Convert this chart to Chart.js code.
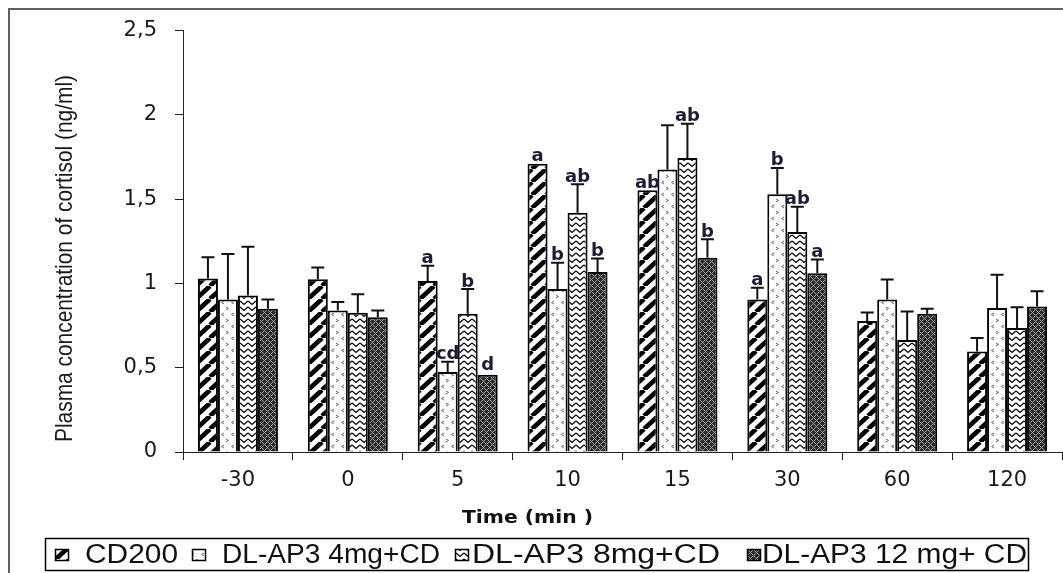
<!DOCTYPE html>
<html>
<head>
<meta charset="utf-8">
<script src="https://cdn.jsdelivr.net/npm/chart.js@4.4.1/dist/chart.umd.min.js"></script>
<style>
  html, body { margin: 0; padding: 0; background: #fff; }
  #wrap { width: 1063px; height: 573px; }
</style>
</head>
<body>
<div id="wrap"><canvas id="c" width="1063" height="573"></canvas></div>
<script>
// ---- data ----
const categories = ['-30', '0', '5', '10', '15', '30', '60', '120'];
const seriesNames = ['CD200', 'DL-AP3 4mg+CD', 'DL-AP3 8mg+CD', 'DL-AP3 12 mg+ CD'];
const cd200 = [1.03, 1.025, 1.015, 1.71, 1.553, 0.905, 0.777, 0.596];
const cd200Err = [0.125, 0.07, 0.09, 0, 0, 0.07, 0.05, 0.08];
const ap4 = [0.904, 0.84, 0.475, 0.967, 1.676, 1.529, 0.904, 0.855];
const ap4Err = [0.27, 0.05, 0.06, 0.156, 0.263, 0.156, 0.12, 0.196];
const ap8 = [0.928, 0.826, 0.82, 1.42, 1.744, 1.305, 0.664, 0.736];
const ap8Err = [0.29, 0.11, 0.147, 0.168, 0.203, 0.15, 0.17, 0.123];
const ap12 = [0.85, 0.80, 0.459, 1.068, 1.152, 1.06, 0.82, 0.863];
const ap12Err = [0.055, 0.04, 0.01, 0.08, 0.11, 0.082, 0.03, 0.09];
const cd200Sig = ['', '', 'a', 'a', 'ab', 'a', '', ''];
const ap4Sig = ['', '', 'cd', 'b', '', 'b', '', ''];
const ap8Sig = ['', '', 'b', 'ab', 'ab', 'ab', '', ''];
const ap12Sig = ['', '', 'd', 'b', 'b', 'a', '', ''];
const yTicks = [0, 0.5, 1, 1.5, 2, 2.5];
const yTitle = 'Plasma concentration of cortisol (ng/ml)';
const xTitle = 'Time (min )';

// ---- patterns ----
function makePattern(w, h, draw) {
  const c = document.createElement('canvas');
  c.width = w; c.height = h;
  const g = c.getContext('2d');
  draw(g, w, h);
  return document.getElementById('c').getContext('2d').createPattern(c, 'repeat');
}
const patDiag = makePattern(14, 13, (g, w, h) => {
  g.fillStyle = '#fff'; g.fillRect(0, 0, w, h);
  g.strokeStyle = '#000'; g.lineWidth = 4.6; g.lineCap = 'butt';
  for (const k of [-w, 0, w]) { g.beginPath(); g.moveTo(k, h); g.lineTo(k + w, 0); g.stroke(); }
});
const patChev = makePattern(10, 12, (g, w, h) => {
  g.fillStyle = '#fff'; g.fillRect(0, 0, w, h);
  g.strokeStyle = '#666'; g.lineWidth = 1;
  g.beginPath(); g.moveTo(4, 1); g.lineTo(1.5, 2.5); g.lineTo(4, 4); g.stroke();
  g.beginPath(); g.moveTo(6, 7); g.lineTo(8.5, 8.5); g.lineTo(6, 10); g.stroke();
});
const patZig = makePattern(8, 6, (g, w, h) => {
  g.fillStyle = '#fff'; g.fillRect(0, 0, w, h);
  g.strokeStyle = '#000'; g.lineWidth = 1.3;
  g.beginPath(); g.moveTo(0, 1); g.lineTo(4, 4.5); g.lineTo(8, 1); g.stroke();
});
const patMesh = makePattern(6, 6, (g, w, h) => {
  g.fillStyle = '#2b2b2b'; g.fillRect(0, 0, w, h);
  g.fillStyle = '#a0a0a0';
  const pts = [[0,0],[1,1],[2,2],[4,2],[5,1],[3,3],[2,4],[1,5],[4,4],[5,5]];
  for (const [x, y] of pts) g.fillRect(x, y, 1, 1);
});

const values = [cd200, ap4, ap8, ap12];
const errs = [cd200Err, ap4Err, ap8Err, ap12Err];
const sigs = [cd200Sig, ap4Sig, ap8Sig, ap12Sig];
const fills = [patDiag, patChev, patZig, patMesh];

const datasets = seriesNames.map((name, i) => ({
  label: name,
  data: values[i],
  backgroundColor: fills[i],
  borderColor: '#000',
  borderWidth: 2,
  barPercentage: 1.0,
  categoryPercentage: 0.728
}));

function drawFitted(ctx, text, x, y, targetW, font) {
  ctx.font = font;
  const w = ctx.measureText(text).width;
  ctx.save();
  ctx.translate(x, y);
  ctx.scale(targetW / w, 1);
  ctx.fillText(text, 0, 0);
  ctx.restore();
}

const decor = {
  id: 'decor',
  beforeDraw(chart) {
    const ctx = chart.ctx;
    ctx.save();
    ctx.fillStyle = '#fff';
    ctx.fillRect(0, 0, chart.width, chart.height);
    ctx.strokeStyle = '#606060';
    ctx.lineWidth = 2;
    ctx.beginPath();
    ctx.moveTo(9, 600); ctx.lineTo(9, 9); ctx.lineTo(1070, 9);
    ctx.stroke();
    ctx.restore();
  },
  afterDatasetsDraw(chart) {
    const ctx = chart.ctx;
    const y = chart.scales.y;
    ctx.save();
    chart.data.datasets.forEach((ds, di) => {
      const meta = chart.getDatasetMeta(di);
      meta.data.forEach((bar, i) => {
        const v = values[di][i], e = errs[di][i];
        const top = y.getPixelForValue(v);
        const et = y.getPixelForValue(v + e);
        if (e > 0.015) {
          ctx.strokeStyle = '#111'; ctx.lineWidth = 2;
          ctx.beginPath();
          ctx.moveTo(bar.x, top); ctx.lineTo(bar.x, et);
          ctx.moveTo(bar.x - 6.5, et); ctx.lineTo(bar.x + 6.5, et);
          ctx.stroke();
        }
        const s = sigs[di][i];
        if (s) {
          ctx.fillStyle = '#1c1c34';
          ctx.font = 'bold 18px "DejaVu Sans"';
          ctx.textAlign = 'center';
          ctx.textBaseline = 'alphabetic';
          ctx.fillText(s, bar.x, Math.min(top, et) - 2.5);
        }
      });
    });
    ctx.restore();
  },
  afterDraw(chart) {
    const ctx = chart.ctx;
    ctx.save();
    // y title
    ctx.fillStyle = '#1a1a1a';
    ctx.textAlign = 'left';
    ctx.textBaseline = 'middle';
    ctx.font = '24px "Liberation Sans"';
    const w = ctx.measureText(yTitle).width;
    ctx.translate(65, 442);
    ctx.rotate(-Math.PI / 2);
    ctx.scale(367 / w, 1);
    ctx.fillText(yTitle, 0, 0);
    ctx.restore();

    ctx.save();
    ctx.fillStyle = '#111';
    ctx.textAlign = 'left';
    ctx.textBaseline = 'middle';
    drawFitted(ctx, xTitle, 462, 519, 131, 'bold 17px "DejaVu Sans"');

    // legend
    ctx.strokeStyle = '#000';
    ctx.lineWidth = 1.5;
    ctx.strokeRect(45.5, 538.5, 983, 32);
    const iconX = [55, 192, 455, 747];
    const textX = [85, 222, 472, 762];
    const textEnd = [178, 440, 720, 1027];
    chart.data.datasets.forEach((ds, i) => {
      ctx.fillStyle = ds.backgroundColor;
      ctx.fillRect(iconX[i], 549, 14, 12);
      ctx.strokeStyle = '#000'; ctx.lineWidth = 1.5;
      ctx.strokeRect(iconX[i] + 0.5, 549.5, 13, 11);
      ctx.fillStyle = '#111';
      drawFitted(ctx, ds.label, textX[i], 556, textEnd[i] - textX[i], '27px "Liberation Sans"');
    });
    ctx.restore();
  }
};

new Chart(document.getElementById('c'), {
  type: 'bar',
  data: { labels: categories, datasets },
  options: {
    responsive: false,
    animation: false,
    events: [],
    layout: { padding: { top: 25, right: 1, bottom: 0, left: 0 } },
    plugins: { legend: { display: false }, title: { display: false }, tooltip: { enabled: false } },
    scales: {
      x: {
        afterFit(s) { s.height = 121; },
        grid: { display: true, drawOnChartArea: false, drawTicks: true, tickLength: 8, color: '#222', offset: true },
        border: { display: true, color: '#222', width: 1 },
        ticks: { color: '#1a1a1a', font: { family: '"DejaVu Sans"', size: 21 }, padding: 8, maxRotation: 0 }
      },
      y: {
        min: 0, max: 2.5,
        afterFit(s) { s.width = 183; },
        afterBuildTicks(s) { s.ticks = yTicks.map(v => ({ value: v })); },
        grid: { display: true, drawOnChartArea: false, drawTicks: true, tickLength: 8, color: '#222' },
        border: { display: true, color: '#222', width: 1 },
        ticks: {
          color: '#1a1a1a', font: { family: '"DejaVu Sans"', size: 21 }, padding: 18,
          callback: (v) => String(v).replace('.', ',')
        }
      }
    }
  },
  plugins: [decor]
});
</script>
</body>
</html>
